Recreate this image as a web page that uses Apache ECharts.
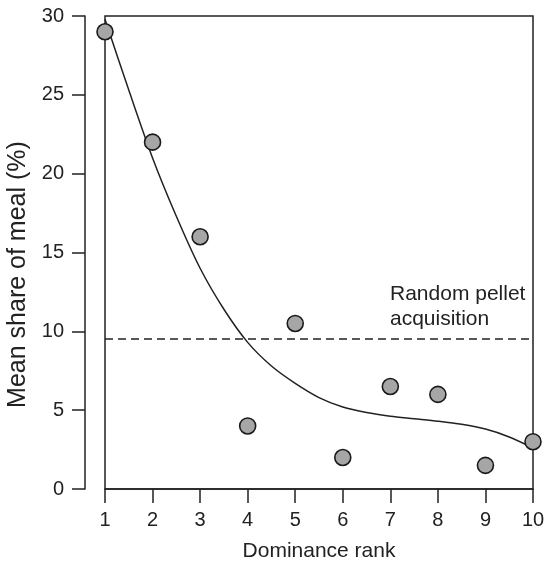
<!DOCTYPE html>
<html><head><meta charset="utf-8">
<script src="https://cdn.jsdelivr.net/npm/echarts@6/dist/echarts.min.js"></script>
<style>html,body{margin:0;padding:0;background:#fff}#c{width:547px;height:561px}</style>
</head><body><div id="c"></div>
<script>
const ranks = [1,2,3,4,5,6,7,8,9,10];
const meanShare = [29,22,16,4,10.5,2,6.5,6,1.5,3];
const curveX = [1,1.5,2,2.5,3,3.5,4,4.5,5,5.5,6,6.5,7,7.5,8,8.5,9,9.5,10];
const curveY = [29.8,25.3,21.0,17.3,14.0,11.4,9.3,7.8,6.7,5.8,5.2,4.85,4.62,4.46,4.3,4.1,3.8,3.3,2.6];
const randomLevel = 9.5;
const yTicks = [0,5,10,15,20,25,30];
const xTicks = ranks;
const labelText = ['Random pellet','acquisition'];

const font = '"Liberation Sans", Arial, Helvetica, sans-serif';
const ink = '#222';
const chart = echarts.init(document.getElementById('c'), null, {renderer:'canvas'});
chart.setOption({
  animation:false,
  grid:{left:105,right:14,top:16,bottom:72,outerBoundsMode:'none',containLabel:false,
    show:true,borderColor:ink,borderWidth:1.5,backgroundColor:'transparent'},
  xAxis:{type:'value',min:xTicks[0],max:xTicks[xTicks.length-1],interval:1,
    name:'Dominance rank',nameLocation:'middle',nameGap:52,
    nameTextStyle:{fontFamily:font,fontSize:21,color:ink},
    axisLine:{show:true,onZero:false,lineStyle:{color:ink,width:1.5}},
    axisTick:{show:true,length:14,lineStyle:{color:ink,width:1.5}},
    axisLabel:{fontFamily:font,fontSize:20,color:ink,margin:21},
    splitLine:{show:false}},
  yAxis:{type:'value',min:yTicks[0],max:yTicks[yTicks.length-1],interval:5,offset:20,
    name:'Mean share of meal (%)',nameLocation:'middle',nameGap:52,
    nameTextStyle:{fontFamily:font,fontSize:25,color:ink,padding:[0,44,0,0]},
    axisLine:{show:true,lineStyle:{color:ink,width:1.5}},
    axisTick:{show:true,length:13,lineStyle:{color:ink,width:1.5}},
    axisLabel:{fontFamily:font,fontSize:20,color:ink,margin:21},
    splitLine:{show:false}},
  graphic:[{type:'text',left:390,top:282,style:{text:labelText.join('\n'),font:'21px '+font,fill:ink,lineHeight:25}}],
  series:[
    {type:'line',data:curveX.map((x,i)=>[x,curveY[i]]),smooth:0.3,showSymbol:false,
     lineStyle:{color:ink,width:1.5},z:2,
     markLine:{silent:true,symbol:'none',label:{show:false},
       lineStyle:{color:ink,width:1.5,type:[8,5]},
       data:[[{coord:[xTicks[0],randomLevel]},{coord:[xTicks[xTicks.length-1],randomLevel]}]]}},
    {type:'scatter',data:ranks.map((r,i)=>[r,meanShare[i]]),symbol:'circle',symbolSize:16,
     itemStyle:{color:'#a6a6a6',borderColor:'#1a1a1a',borderWidth:1.6,opacity:1},z:5}
  ]
});
</script></body></html>
